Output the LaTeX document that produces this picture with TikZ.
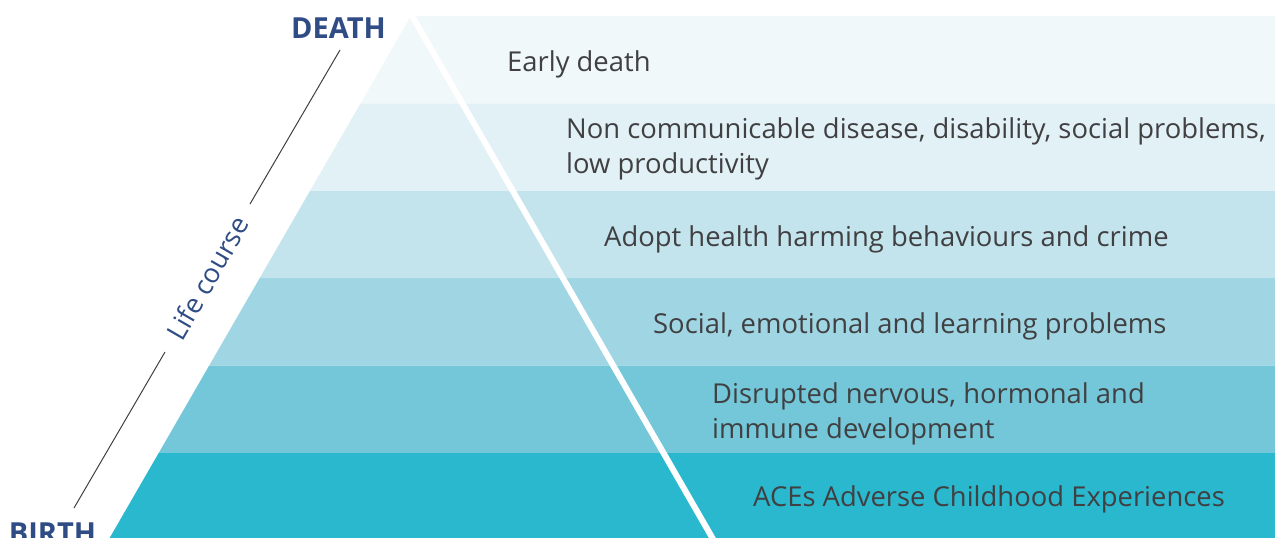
\documentclass[tikz,border=0pt]{standalone}
\usepackage{fontspec}
\setmainfont{Open Sans}
\definecolor{bandA}{RGB}{240,248,250}
\definecolor{bandB}{RGB}{226,241,246}
\definecolor{bandC}{RGB}{195,228,236}
\definecolor{bandD}{RGB}{160,214,227}
\definecolor{bandE}{RGB}{115,199,217}
\definecolor{bandF}{RGB}{42,184,207}
\definecolor{txt}{RGB}{64,64,66}
\definecolor{navy}{RGB}{47,76,133}
\tikzset{
  bandlabel/.style={anchor=base west, inner sep=0pt, text=txt, font=\fontsize{27.4}{35}\selectfont, align=left},
  endlabel/.style={inner sep=0pt, text=navy, font=\fontsize{29}{34}\selectfont\bfseries},
  lifeline/.style={draw=black!75, line width=1pt}
}
\begin{document}
\begin{tikzpicture}[x=1pt,y=-1pt]
\useasboundingbox (0,0) rectangle (1275,538);
\fill[white] (0,0) rectangle (1275,538);
% bands
\def\apx{411}\def\apy{16}
\foreach \top/\bot/\col in {16/103.5/bandA,103.5/191/bandB,191/278/bandC,278/365.5/bandD,365.5/453/bandE,453/545/bandF}{
  \fill[\col] ({\apx-0.57735*(\top-\apy)},\top) -- (1275,\top) -- (1275,\bot) -- ({\apx-0.57735*(\bot-\apy)},\bot) -- cycle;
}
% white line on right side of triangle
\coordinate (apex) at (411,14);
\coordinate (foot) at ({411+0.57735*(545-16)},545);
\draw[white, line width=6pt] (apex) -- (foot);
% labels
\node[bandlabel] (l1) at (507,71) {Early death};
\node[bandlabel] (l2) at (566,173) {Non communicable disease, disability, social problems,\\low productivity};
\node[bandlabel] (l3) at (604,246) {Adopt health harming behaviours and crime};
\node[bandlabel] (l4) at (653,333) {Social, emotional and learning problems};
\node[bandlabel] (l5) at (712,438) {Disrupted nervous, hormonal and\\immune development};
\node[bandlabel] (l6) at (753,506) {ACEs Adverse Childhood Experiences};
% life course axis
\node[endlabel, anchor=base] (death) at (338.5,38) {DEATH};
\node[endlabel, anchor=base] (birth) at (52.5,543) {BIRTH};
\node[inner sep=0pt, text=navy, font=\fontsize{27}{30}\selectfont, rotate=60] (life) at (207.5,278) {Life course};
\coordinate (u1) at (340,50);
\coordinate (u2) at (250,204);
\coordinate (d1) at (165,352);
\coordinate (d2) at (74,508);
\draw[lifeline] (u1) -- (u2);
\draw[lifeline] (d1) -- (d2);
\end{tikzpicture}
\end{document}
